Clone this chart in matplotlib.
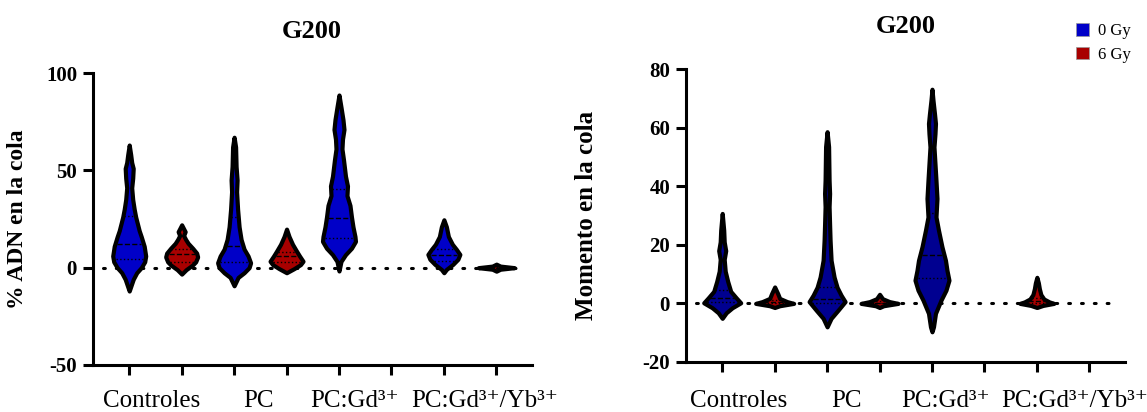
import numpy as np
import matplotlib
matplotlib.use("Agg")
import matplotlib.pyplot as plt
from matplotlib.patches import Patch

plt.rcParams['font.family'] = ['Liberation Serif', 'DejaVu Serif']

# grupos (dos dosis por grupo)
groups = ["Controles", "PC", "PC:Gd³⁺", "PC:Gd³⁺/Yb³⁺"]
doses = ["0 Gy", "6 Gy"]

# ---- % ADN en la cola : perfiles (valor, ancho del violin en px) ----
adn_ctrl0_y = [63, 58, 54, 51, 46, 41, 35, 30, 26, 22, 19, 16, 11, 6, 3, 0, -2.6, -6, -9, -12]
adn_ctrl0_w = [0, 3, 5, 8, 7, 5, 7, 10, 13, 17, 20, 24, 30, 33, 31, 24, 15, 8, 4, 0]
adn_ctrl6_y = [22, 20, 18.5, 16.5, 14.5, 12.5, 10, 7.5, 5.5, 3, 1.4, -1, -3.3]
adn_ctrl6_w = [0, 4, 7, 4, 8, 13, 22, 30, 32, 28, 22, 9, 0]
adn_pc0_y = [67, 62, 52, 45, 39, 30, 21, 14.5, 9.5, 6, 2.5, 0, -2.6, -5, -9.3]
adn_pc0_w = [0, 3, 4, 6, 5, 7, 10, 14, 20, 28, 33, 30, 20, 8, 0]
adn_pc6_y = [19.8, 16, 12, 8.5, 6, 3.3, 1.6, -0.5, -2.6]
adn_pc6_w = [0, 5, 12, 20, 26, 33, 28, 15, 0]
adn_gd0_y = [88.7, 82.5, 76, 71, 66, 61, 55.5, 47, 42, 37, 32, 26, 21, 16, 13.5, 10, 6.7, 3.2, -1.7]
adn_gd0_w = [0, 4, 8, 10, 7, 6, 9, 13, 17, 16, 22, 25, 28, 32, 33, 25, 13, 4, 0]
adn_gdyb0_y = [24.6, 21, 16, 12, 9.4, 6.8, 4.3, 1.7, -0.9, -2.6]
adn_gdyb0_w = [0, 5, 9, 17, 25, 32, 28, 18, 5, 0]
adn_gdyb6_y = [1.8, 0.8, 0, -0.8, -1.8]
adn_gdyb6_w = [0, 8, 36, 8, 0]
# cuartiles (q1, mediana, q3)
adn_quart = [(4.6, 11.9, 26.3), (3.1, 6.9, 9.4), (2.7, 11.3, 26.0), (2.8, 6.0, 8.1),
             (15.2, 25.5, 40.3), None, (3.3, 6.3, 9.4), (-0.3, 0.0, 0.3)]

# ---- Momento en la cola ----
mom_ctrl0_y = [30.7, 25, 21, 18, 15, 11, 7.5, 4.1, 1.9, 0.2, -1.5, -3.2, -5.1]
mom_ctrl0_w = [0, 3, 4, 7, 4, 6, 11, 17, 28, 37, 20, 8, 0]
mom_ctrl6_y = [5.6, 3.4, 1.7, 0.6, 0, -0.8, -1.4]
mom_ctrl6_w = [0, 6, 10, 25, 38, 10, 0]
mom_pc0_y = [58.6, 53.5, 42, 37.5, 33, 27, 21.5, 14.7, 9, 5.5, 2.8, 0.6, -2.3, -5.1, -8]
mom_pc0_w = [0, 3, 4, 5, 4, 5, 6, 8, 14, 20, 28, 36, 22, 8, 0]
mom_pc6_y = [3.1, 1.6, 0.6, 0, -0.8, -1.4]
mom_pc6_w = [0, 6, 20, 37, 8, 0]
mom_gd0_y = [73.1, 69.4, 64.8, 61.4, 57.9, 53.4, 47.7, 42, 35.8, 29.5, 25, 19.3, 14.7, 11.3, 7.9, 4.5, 1.1, -3.4, -8, -9.7]
mom_gd0_w = [0, 2, 5, 7, 6, 4, 6, 8, 10, 8, 13, 20, 27, 30, 34, 28, 18, 7, 3, 0]
mom_gdyb6_y = [8.9, 7, 5, 3, 1.5, 0.5, 0, -0.7, -1.4]
mom_gdyb6_w = [0, 3, 5, 8, 14, 25, 34, 12, 0]
mom_quart = [(0.5, 1.7, 4.5), (0.2, 0.5, 1.3), (0.3, 1.5, 5.5), (0.1, 0.3, 0.8),
             (8.5, 16.4, 30.7), None, (0.2, 0.8, 2.0), None]

blue_l = '#0000c8'
blue_r = '#000090'
red = '#a80000'
px_per_unit = 52.5


def draw_violin(ax, pos, ys, ws, color, quart):
    ys = np.array(ys, dtype=float)
    half = np.array(ws, dtype=float) / 2 / px_per_unit
    ax.fill_betweenx(ys, pos - half, pos + half, facecolor=color, edgecolor='black',
                     linewidth=3, joinstyle='round', capstyle='round', zorder=3)
    if quart is None:
        return
    for q, ls in zip(quart, [':', '--', ':']):
        hw = np.interp(q, ys[::-1], half[::-1]) * 0.85
        ax.plot([pos - hw, pos + hw], [q, q], color='black', ls=ls, lw=1, zorder=4)


def style_axes(ax, ylim, yticks, label_pos, ylabel, label_x, lab_size, lab_pad):
    ax.set_xlim(-0.69, 7.68)
    ax.set_ylim(*ylim)
    ax.set_yticks(yticks)
    ax.set_yticklabels([str(t) for t in yticks], fontsize=15, fontweight='bold')
    ax.set_xticks(range(8))
    ax.set_xticklabels([])
    ax.set_xticks(label_pos, minor=True)
    ax.set_xticklabels(groups, minor=True, fontsize=18)
    ax.tick_params(axis='x', which='minor', length=0, pad=lab_pad)
    ax.tick_params(which='major', length=7.5, width=2.2, pad=4)
    for s in ['top', 'right']:
        ax.spines[s].set_visible(False)
    for s in ['left', 'bottom']:
        ax.spines[s].set_linewidth(2.2)
    ax.set_ylabel(ylabel, fontsize=lab_size, fontweight='bold')
    ax.yaxis.set_label_coords(label_x, 0.5)
    ax.plot([-0.5, 7.5], [0, 0], color='black', lw=2.2, ls=(0, (0.6, 3.6)),
            dash_capstyle='round', zorder=2)


fig = plt.figure(figsize=(11.47, 4.12), dpi=100)
ax1 = fig.add_axes([0.0811, 0.1141, 0.3827, 0.7087])
ax2 = fig.add_axes([0.5981, 0.1214, 0.3827, 0.7111])

adn_violins = [(adn_ctrl0_y, adn_ctrl0_w, blue_l), (adn_ctrl6_y, adn_ctrl6_w, red),
               (adn_pc0_y, adn_pc0_w, blue_l), (adn_pc6_y, adn_pc6_w, red),
               (adn_gd0_y, adn_gd0_w, blue_l), None,
               (adn_gdyb0_y, adn_gdyb0_w, blue_l), (adn_gdyb6_y, adn_gdyb6_w, red)]
mom_violins = [(mom_ctrl0_y, mom_ctrl0_w, blue_r), (mom_ctrl6_y, mom_ctrl6_w, red),
               (mom_pc0_y, mom_pc0_w, blue_r), (mom_pc6_y, mom_pc6_w, red),
               (mom_gd0_y, mom_gd0_w, blue_r), None,
               (mom_gdyb6_y, mom_gdyb6_w, red), None]

for i, v in enumerate(adn_violins):
    if v is not None:
        draw_violin(ax1, i, v[0], v[1], v[2], adn_quart[i])
for i, v in enumerate(mom_violins):
    if v is not None:
        draw_violin(ax2, i, v[0], v[1], v[2], mom_quart[i])

style_axes(ax1, (-50, 100), [-50, 0, 50, 100], [0.42, 2.46, 4.3, 6.78],
           "% ADN en la cola", -0.148, 17, 18)
style_axes(ax2, (-20, 80), [-20, 0, 20, 40, 60, 80], [0.32, 2.36, 4.25, 6.72],
           "Momento en la cola", -0.2, 18, 20)

fig.text(312 / 1147, 1 - 38 / 412, "G200", ha='center', va='baseline', fontsize=19, fontweight='bold')
fig.text(906 / 1147, 1 - 33 / 412, "G200", ha='center', va='baseline', fontsize=19, fontweight='bold')

handles = [Patch(facecolor=blue_l, edgecolor='#999999', lw=0.5),
           Patch(facecolor=red, edgecolor='#999999', lw=0.5)]
fig.legend(handles, doses, loc='upper left', bbox_to_anchor=(1076 / 1147, 1 - 23 / 412),
           frameon=False, fontsize=12, handlelength=0.8, handleheight=0.8,
           handletextpad=0.5, labelspacing=0.45, borderpad=0, borderaxespad=0)

fig.savefig("out.png", dpi=100)
